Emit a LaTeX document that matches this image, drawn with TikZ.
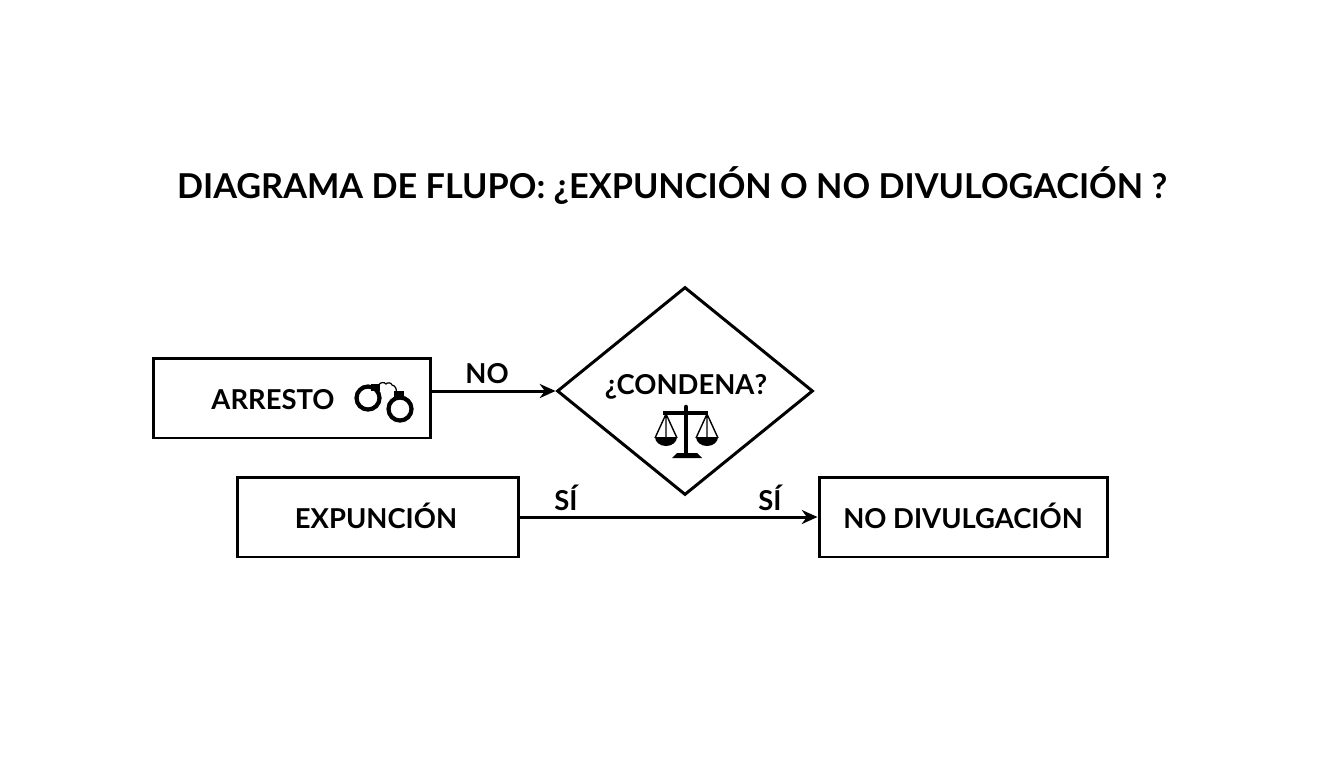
\documentclass[tikz,border=0pt]{standalone}
\usepackage{fontspec}
\setmainfont{Lato}
\usetikzlibrary{shapes.geometric,arrows.meta}
\tikzset{
  stepbox/.style={draw=black, line width=1.7pt, fill=white, inner sep=0pt},
  asklabel/.style={font=\bfseries\fontsize{15.6}{19}\selectfont, inner sep=0pt, anchor=base},
  flow/.style={draw=black, line width=1.7pt, -{Stealth[length=9pt,width=8pt]}}
}
\begin{document}
\begin{tikzpicture}[x=.02cm,y=-.02cm]
  \useasboundingbox (0,0) rectangle (1344,768);

  \node[inner sep=0pt, anchor=base, font=\bfseries\fontsize{19.5}{24}\selectfont] (title) at (672,198) {DIAGRAMA DE FLUPO: ¿EXPUNCIÓN O NO DIVULOGACIÓN ?};

  \node[stepbox, minimum width=5.56cm, minimum height=1.6cm] (arresto) at (292,398) {};
  \node[asklabel] (arrestotxt) at (273,409) {ARRESTO};
  \node[stepbox, diamond, aspect=1.23, minimum width=5.12cm, minimum height=4.16cm] (condena) at (685,391) {};
  \node[asklabel] (condenatxt) at (686,394) {¿CONDENA?};
  \node[stepbox, minimum width=5.64cm, minimum height=1.6cm] (expuncion) at (378,517) {};
  \node[asklabel] (expunciontxt) at (376,528) {EXPUNCIÓN};
  \node[stepbox, minimum width=5.78cm, minimum height=1.6cm] (divulgacion) at (963.5,517) {};
  \node[asklabel] (divulgaciontxt) at (963,528) {NO DIVULGACIÓN};

  \draw[flow] (arresto.east |- condena.west) -- (condena.west);
  \draw[flow] (expuncion) -- (divulgacion);

  \node[asklabel] (no) at (487,383) {NO};
  \node[asklabel] (si1) at (566,510) {SÍ};
  \node[asklabel] (si2) at (770,510) {SÍ};

  % handcuffs
  \draw[line width=2.4pt] (368,398) circle (11.5);
  \draw[line width=2.4pt] (400,409) circle (11.5);
  \fill (371,384) rectangle (380,391);
  \fill (394,391) rectangle (404,398);
  \draw[line width=.7pt] (379,385) to[bend left=70] (386,384) to[bend left=70] (392,385) to[bend left=50] (396,392);

  % scales
  \draw[line width=2.4pt] (663,413) -- (708,413);
  \draw[line width=2.6pt, line cap=round] (686,407) -- (686,454);
  \fill (677,453) -- (697,453) -- (702,458) -- (672,458) -- cycle;
  \foreach \i in {666,707} {
    \draw[line width=.8pt] (\i,414) -- (\i-11,438) (\i,414) -- (\i+11,438) (\i,414) -- (\i,438);
    \fill (\i-11,437) arc[start angle=180, end angle=0, x radius=11, y radius=9] -- cycle;
  }
\end{tikzpicture}
\end{document}
